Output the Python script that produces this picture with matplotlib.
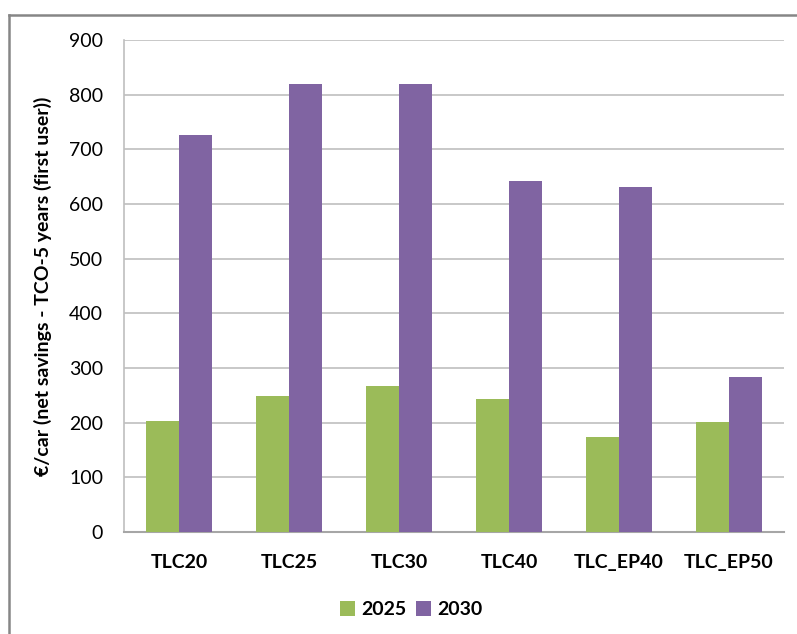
import matplotlib
matplotlib.use("Agg")
import matplotlib.pyplot as plt
import numpy as np
from matplotlib.lines import Line2D

# chart data
scenarios = ["TLC20", "TLC25", "TLC30", "TLC40", "TLC_EP40", "TLC_EP50"]
values_2025 = [203, 249, 267, 243, 174, 201]
values_2030 = [727, 820, 820, 642, 631, 284]
years = ["2025", "2030"]

green = "#9BBB59"
purple = "#8064A2"

plt.rcParams["font.family"] = ["Lato", "DejaVu Sans"]

fig = plt.figure(figsize=(7.97, 6.34), dpi=100)
ax = fig.add_axes([0.1556, 0.1609, 0.8281, 0.776])

x = np.arange(len(scenarios))
w = 0.3
ax.bar(x - w / 2, values_2025, w, color=green, label=years[0], zorder=3)
ax.bar(x + w / 2, values_2030, w, color=purple, label=years[1], zorder=3)

ax.set_xlim(-0.5, len(scenarios) - 0.5)
ax.set_ylim(0, 900)
ax.set_yticks(range(0, 901, 100))
ax.set_xticks(x)
ax.set_xticklabels(scenarios, fontweight="bold", fontsize=14)
ax.tick_params(axis="y", labelsize=14, length=0, pad=15)
ax.tick_params(axis="x", length=0, pad=16)

ax.yaxis.grid(True, color="#BFBFBF", linewidth=1.2, zorder=0)
for side in ["top", "right"]:
    ax.spines[side].set_visible(False)
ax.spines["left"].set_color("#BFBFBF")
ax.spines["bottom"].set_color("#A6A6A6")
ax.spines["left"].set_linewidth(1.2)
ax.spines["bottom"].set_linewidth(1.5)

ax.set_ylabel("€/car (net savings - TCO-5 years (first user))",
              fontweight="bold", fontsize=14, labelpad=12)

ax.legend(loc="upper center", bbox_to_anchor=(0.435, -0.105), ncol=2,
          frameon=False, prop={"weight": "bold", "size": 14},
          handlelength=0.8, handleheight=0.8, handletextpad=0.3,
          columnspacing=0.5)

# outer border (left and top only)
fig.add_artist(Line2D([0.0113, 0.0113], [0, 0.977], transform=fig.transFigure,
                      color="#868686", linewidth=1.8))
fig.add_artist(Line2D([0.0113, 1.0], [0.977, 0.977], transform=fig.transFigure,
                      color="#868686", linewidth=1.8))

fig.savefig("out.png", dpi=100)
